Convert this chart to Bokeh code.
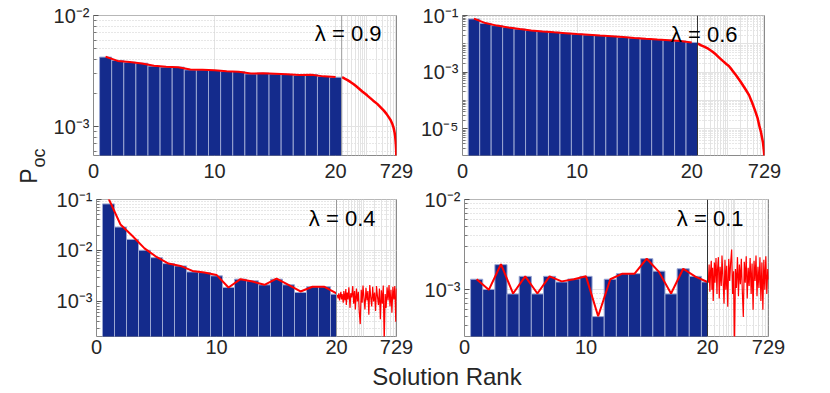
import math
from bokeh.plotting import figure
from bokeh.layouts import row, column
from bokeh.models import Range1d, LogScale, FixedTicker, Grid, Span, Label
from bokeh.embed import file_html
from bokeh.resources import INLINE

FONT = "Liberation Sans"
TXT = "#262626"
NAVY = "#142b8c"
EDGE = "#9aa6d2"
RED = "#ff0000"

# ---------------- data ----------------
rank = list(range(1, 21))

bar_09 = [4.22e-3, 3.94e-3, 3.80e-3, 3.72e-3, 3.50e-3, 3.43e-3, 3.43e-3, 3.24e-3, 3.24e-3, 3.20e-3,
          3.13e-3, 3.13e-3, 2.98e-3, 3.03e-3, 2.98e-3, 2.94e-3, 2.90e-3, 2.94e-3, 2.82e-3, 2.78e-3]
line_09 = [4.25e-3, 3.90e-3, 3.82e-3, 3.70e-3, 3.52e-3, 3.45e-3, 3.42e-3, 3.26e-3, 3.25e-3, 3.21e-3,
           3.14e-3, 3.12e-3, 3.00e-3, 3.02e-3, 2.99e-3, 2.95e-3, 2.91e-3, 2.93e-3, 2.83e-3, 2.80e-3]

bar_06 = [7.6e-2, 5.3e-2, 4.4e-2, 3.85e-2, 3.35e-2, 2.95e-2, 2.78e-2, 2.58e-2, 2.38e-2, 2.24e-2,
          2.08e-2, 1.96e-2, 1.85e-2, 1.72e-2, 1.62e-2, 1.52e-2, 1.43e-2, 1.36e-2, 1.26e-2, 1.12e-2]
line_06 = [7.8e-2, 5.4e-2, 4.4e-2, 3.8e-2, 3.35e-2, 2.98e-2, 2.75e-2, 2.55e-2, 2.38e-2, 2.22e-2,
           2.08e-2, 1.95e-2, 1.84e-2, 1.73e-2, 1.62e-2, 1.52e-2, 1.43e-2, 1.35e-2, 1.25e-2, 1.12e-2]

bar_04 = [8.2e-2, 2.88e-2, 1.65e-2, 1.01e-2, 7.24e-3, 5.53e-3, 4.98e-3, 3.80e-3, 3.69e-3, 3.18e-3,
          1.88e-3, 2.74e-3, 2.54e-3, 2.12e-3, 2.74e-3, 2.12e-3, 1.50e-3, 1.94e-3, 1.94e-3, 1.39e-3]
line_04 = [1.05e-1, 3.24e-2, 1.92e-2, 1.10e-2, 7.46e-3, 5.53e-3, 4.98e-3, 3.98e-3, 3.69e-3, 3.32e-3,
           1.88e-3, 2.74e-3, 2.46e-3, 2.12e-3, 2.82e-3, 2.12e-3, 1.57e-3, 1.94e-3, 1.94e-3, 1.44e-3]

bar_01 = [1.31e-3, 1.01e-3, 1.90e-3, 9.0e-4, 1.41e-3, 9.0e-4, 1.41e-3, 1.22e-3, 1.32e-3, 1.41e-3,
          5.05e-4, 1.31e-3, 1.51e-3, 1.51e-3, 2.21e-3, 1.61e-3, 9.0e-4, 1.71e-3, 1.41e-3, 1.22e-3]
line_01 = [1.31e-3, 1.0e-3, 1.92e-3, 9.1e-4, 1.41e-3, 9.1e-4, 1.41e-3, 1.24e-3, 1.31e-3, 1.41e-3,
           5.1e-4, 1.31e-3, 1.51e-3, 1.51e-3, 2.21e-3, 1.58e-3, 9.1e-4, 1.71e-3, 1.40e-3, 1.22e-3]

tail_rank_smooth = [21, 25, 30, 37, 45, 55, 65, 80, 95, 109, 130, 160, 208, 260, 320, 380, 443,
                    500, 552, 600, 641, 670, 697, 715, 725, 729]
tail_09 = [2.78e-3, 2.70e-3, 2.62e-3, 2.51e-3, 2.40e-3, 2.28e-3, 2.18e-3, 2.06e-3, 1.97e-3, 1.90e-3,
           1.81e-3, 1.71e-3, 1.60e-3, 1.49e-3, 1.39e-3, 1.30e-3, 1.21e-3, 1.14e-3, 1.06e-3, 9.8e-4,
           8.9e-4, 8.1e-4, 7.0e-4, 6.0e-4, 4.5e-4, 1.5e-4]
tail_06 = [1.02e-2, 8.9e-3, 7.8e-3, 6.6e-3, 5.4e-3, 4.2e-3, 3.25e-3, 2.45e-3, 1.95e-3, 1.65e-3,
           1.18e-3, 7.8e-4, 4.4e-4, 2.6e-4, 1.55e-4, 8.2e-5, 4.3e-5, 2.5e-5, 1.3e-5, 8.0e-6,
           4.8e-6, 3.4e-6, 2.0e-6, 1.4e-6, 8.0e-7, 2.0e-7]

tail_rank_noisy = [21, 22, 23, 24, 25, 26, 27, 28, 30, 31, 33, 35, 36, 38, 40, 42, 45, 47, 50, 53,
                   56, 59, 62, 66, 70, 74, 78, 83, 88, 93, 98, 104, 110, 117, 124, 131, 139, 147,
                   156, 165, 175, 185, 196, 208, 220, 233, 247, 262, 277, 294, 311, 330, 349, 370,
                   392, 415, 440, 466, 494, 523, 554, 587, 622, 659, 698, 729]
tail_04 = [1.35e-3, 1.15e-3, 1.45e-3, 1.05e-3, 1.30e-3, 1.55e-3, 1.10e-3, 1.40e-3, 9.5e-4, 1.60e-3,
           1.05e-3, 1.75e-3, 8.5e-4, 1.50e-3, 1.10e-3, 1.90e-3, 7.5e-4, 1.45e-3, 1.20e-3, 2.00e-3,
           9.0e-4, 1.60e-3, 7.0e-4, 1.80e-3, 1.00e-3, 1.55e-3, 6.5e-4, 3.6e-4, 1.70e-3, 9.5e-4,
           2.05e-3, 1.15e-3, 7.0e-4, 1.85e-3, 1.05e-3, 1.60e-3, 5.5e-4, 2.10e-3, 1.20e-3, 8.0e-4,
           1.95e-3, 1.00e-3, 1.50e-3, 6.5e-4, 2.00e-3, 1.25e-3, 8.5e-4, 1.80e-3, 4.5e-4, 1.65e-3,
           9.0e-4, 2.05e-3, 1.5e-4, 1.40e-3, 7.5e-4, 1.90e-3, 1.05e-3, 2.10e-3, 8.0e-4, 1.70e-3,
           6.0e-4, 1.95e-3, 1.10e-3, 2.00e-3, 4.0e-4, 1.80e-3]
tail_01 = [1.20e-3, 1.90e-3, 9.5e-4, 1.60e-3, 2.10e-3, 1.00e-3, 1.75e-3, 7.5e-4, 2.00e-3, 1.20e-3,
           2.25e-3, 9.0e-4, 1.65e-3, 2.30e-3, 8.0e-4, 1.80e-3, 1.10e-3, 2.40e-3, 1.30e-3, 7.0e-4,
           2.15e-3, 1.00e-3, 1.85e-3, 6.5e-4, 2.20e-3, 1.25e-3, 1.95e-3, 2.80e-3, 9.0e-4, 1.60e-3,
           2.0e-4, 1.70e-3, 1.05e-3, 2.30e-3, 8.5e-4, 1.90e-3, 1.15e-3, 2.20e-3, 9.5e-4, 5.0e-4,
           2.05e-3, 1.20e-3, 2.35e-3, 8.0e-4, 1.75e-3, 1.10e-3, 2.25e-3, 9.0e-4, 1.95e-3, 6.0e-4,
           2.10e-3, 1.25e-3, 2.40e-3, 8.5e-4, 1.80e-3, 1.05e-3, 2.30e-3, 7.5e-4, 2.00e-3, 6.0e-4,
           2.15e-3, 1.00e-3, 2.35e-3, 9.0e-4, 1.70e-3, 1.30e-3]

lambdas = ["0.9", "0.6", "0.4", "0.1"]
x_ticks = [0, 10, 20]
x_ticklabels = ["0", "10", "20", "729"]
tail_end = 729
tail_grid_ticks = [30, 40, 50, 60, 70, 80, 90, 100, 200, 300, 400, 500, 600, 700]

ylim_09 = (10 ** -3.261, 1e-2)
ylim_06 = (10 ** -5.94, 1e-1)
ylim_04 = (10 ** -3.687, 1e-1)
ylim_01 = (10 ** -3.517, 1e-2)
yt_09, yl_09 = [1e-3, 1e-2], ["10\u207b\u00b3", "10\u207b\u00b2"]
yt_06, yl_06 = [1e-5, 1e-3, 1e-1], ["10\u207b\u2075", "10\u207b\u00b3", "10\u207b\u00b9"]
yt_04, yl_04 = [1e-3, 1e-2, 1e-1], ["10\u207b\u00b3", "10\u207b\u00b2", "10\u207b\u00b9"]
yt_01, yl_01 = [1e-3, 1e-2], ["10\u207b\u00b3", "10\u207b\u00b2"]


def panel(bars, line, tail_x, tail_y, tail_w, lam, ylim, yticks, ylabels, brk, brk_px,
          W, H, L, R, T, B, lam_xy, brk_color, standoff):
    fw = W - L - R
    x_end = brk * fw / brk_px
    lt0, lt1 = math.log10(brk), math.log10(tail_end)
    t_start = 10 ** (lt0 - brk_px / (fw - brk_px) * (lt1 - lt0))
    p = figure(width=W, height=H, y_axis_type="log", title=None,
               x_range=Range1d(-1e-6, x_end), y_range=Range1d(ylim[0], ylim[1] * 1.0001),
               output_backend="svg", toolbar_location=None,
               min_border_left=L, min_border_right=R, min_border_top=T, min_border_bottom=B)
    p.extra_x_ranges = {"tail": Range1d(t_start, tail_end)}
    p.extra_x_scales = {"tail": LogScale()}
    p.outline_line_color = "#8a8a8a"
    p.background_fill_color = "white"
    p.border_fill_color = "white"

    d_lo = math.floor(math.log10(ylim[0]))
    d_hi = round(math.log10(ylim[1]))
    decades = [10.0 ** d for d in range(d_lo, d_hi + 1)]
    minors = [k * 10.0 ** d for d in range(d_lo, d_hi) for k in range(2, 10)]

    p.ygrid.ticker = FixedTicker(ticks=decades, minor_ticks=minors)
    p.ygrid.grid_line_color = "#e3e3e3"
    p.ygrid.minor_grid_line_color = "#cfcfcf"
    p.ygrid.minor_grid_line_dash = "1 2"
    p.xgrid.ticker = FixedTicker(ticks=[10, 20])
    p.xgrid.grid_line_color = "#e3e3e3"
    p.add_layout(Grid(dimension=0, ticker=FixedTicker(ticks=tail_grid_ticks),
                      x_range_name="tail", grid_line_color="#e3e3e3"))

    p.quad(left=[r - 0.5 for r in rank], right=[min(r + 0.5, brk) for r in rank],
           bottom=ylim[0] / 10, top=bars, fill_color=NAVY, line_color=EDGE, line_width=1)
    p.line(rank, line, line_color=RED, line_width=2)
    p.line(tail_x, tail_y, x_range_name="tail", line_color=RED, line_width=tail_w)
    p.add_layout(Span(location=brk, dimension="height", line_color=brk_color, line_width=1))

    # axes
    x_end_tick = x_end - 1e-6
    p.xaxis.ticker = FixedTicker(ticks=x_ticks + [x_end_tick])
    p.xaxis.major_label_overrides = dict(zip(x_ticks + [x_end_tick], x_ticklabels))
    p.xaxis.major_tick_in = 0
    p.xaxis.major_tick_out = 0
    p.xaxis.minor_tick_in = 0
    p.xaxis.minor_tick_out = 0
    p.xaxis.axis_line_color = None
    p.xaxis.major_label_standoff = standoff
    p.yaxis.ticker = FixedTicker(ticks=yticks,
                                 minor_ticks=[m for m in decades + minors if m not in yticks])
    p.yaxis.major_label_overrides = dict(zip(yticks, ylabels))
    p.yaxis.major_tick_in = 5
    p.yaxis.major_tick_out = 0
    p.yaxis.minor_tick_in = 3
    p.yaxis.minor_tick_out = 0
    p.yaxis.major_tick_line_color = "#555555"
    p.yaxis.minor_tick_line_color = "#777777"
    p.yaxis.axis_line_color = None
    p.yaxis.major_label_standoff = 4
    for ax in (p.xaxis, p.yaxis):
        ax.major_label_text_font = FONT
        ax.major_label_text_font_size = "20px"
        ax.major_label_text_color = TXT

    p.add_layout(Label(x=lam_xy[0], y=lam_xy[1], x_units="screen", y_units="screen",
                       text="\u03bb = " + lam, text_align="right", text_baseline="alphabetic",
                       text_font=FONT, text_font_size="22px", text_color="black"))
    return p


# layout (page origin at 0,0): row 1 is 188 px tall, row 2 is 174 px tall
f1 = panel(bar_09, line_09, tail_rank_smooth, tail_09, 2.5, lambdas[0], ylim_09, yt_09, yl_09,
           20.5, 249, 364, 188, 42, 18, 15, 33, (288, 122), "#9a9a9a", 8)
f2 = panel(bar_06, line_06, tail_rank_smooth, tail_06, 2.5, lambdas[1], ylim_06, yt_06, yl_06,
           20.5, 235, 416, 188, 48, 66, 15, 33, (275, 121), "#333333", 8)
f3 = panel(bar_04, line_04, tail_rank_noisy, tail_04, 1.2, lambdas[2], ylim_04, yt_04, yl_04,
           20, 240, 364, 174, 46, 18, 10, 26, (279, 118), "#9a9a9a", 3)
f4 = panel(bar_01, line_01, tail_rank_noisy, tail_01, 1.2, lambdas[3], ylim_01, yt_01, yl_01,
           20, 243, 416, 174, 50, 62, 11, 26, (279, 118), "#333333", 3)


def blank(w, h):
    b = figure(width=w, height=h, x_range=Range1d(0, 1), y_range=Range1d(0, 1), title=None,
               output_backend="svg", toolbar_location=None,
               x_axis_location=None, y_axis_location=None, min_border=0)
    b.outline_line_color = None
    for g in b.grid:
        g.visible = False
    return b


# left label (P_oc)
lf = blank(50, 362)
lf.add_layout(Label(x=28.3, y=178.7, x_units="screen", y_units="screen", text="P",
                    angle=math.pi / 2, text_align="left", text_baseline="alphabetic",
                    text_font=FONT, text_font_size="23px", text_color=TXT))
lf.add_layout(Label(x=38.3, y=195, x_units="screen", y_units="screen", text="oc",
                    angle=math.pi / 2, text_align="left", text_baseline="alphabetic",
                    text_font=FONT, text_font_size="18px", text_color=TXT))

# bottom label
bf = blank(830, 31)
bf.add_layout(Label(x=446.5, y=17.5, x_units="screen", y_units="screen", text="Solution Rank",
                    text_align="center", text_baseline="alphabetic",
                    text_font=FONT, text_font_size="24px", text_color=TXT))

layout = column(row(lf, column(row(f1, f2), row(f3, f4))), bf)

open("out.html", "w").write(file_html(layout, INLINE))
